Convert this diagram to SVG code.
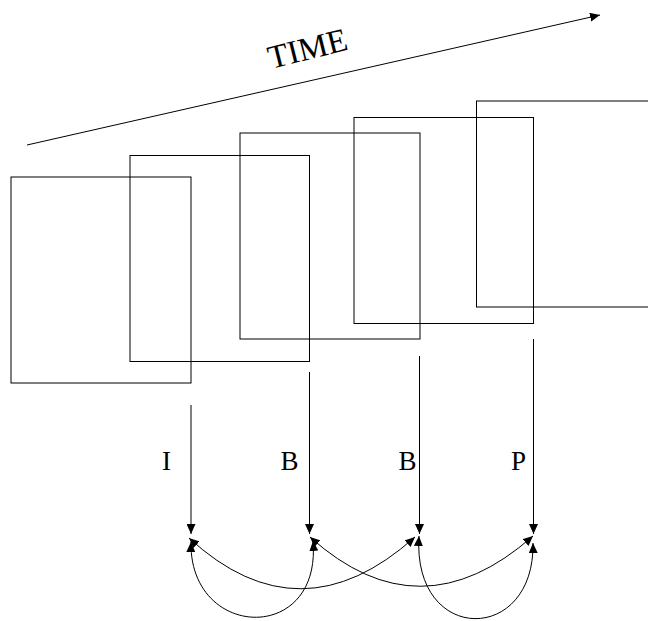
<svg xmlns="http://www.w3.org/2000/svg" width="648" height="621" viewBox="0 0 648 621">
<defs>
<marker id="ah" viewBox="0 0 10 9" refX="10" refY="4.5" markerUnits="userSpaceOnUse" markerWidth="10" markerHeight="9" orient="auto-start-reverse">
<path d="M0,0 L10,4.5 L0,9 z" fill="#000"/>
</marker>
<style>
.frame{fill:none;stroke:#000;stroke-width:1}
.c{fill:none;stroke:#000;stroke-width:1}
.lbl{font-family:"Liberation Serif","Times New Roman",serif;font-size:27px;fill:#000}
.big{font-size:33px}
</style>
</defs>
<rect width="648" height="621" fill="#fff"/>
<g id="time">
<text class="lbl big" x="271" y="69" transform="rotate(-14 271 69)">TIME</text>
</g>
<g id="frame1"><rect class="frame" x="11" y="177" width="180" height="206"/></g>
<g id="frame2"><rect class="frame" x="130" y="155.5" width="179.5" height="206"/></g>
<g id="frame3"><rect class="frame" x="240" y="133" width="180" height="206"/></g>
<g id="frame4"><rect class="frame" x="354" y="117.5" width="179.5" height="206"/></g>
<g id="frame5"><rect class="frame" x="476.5" y="101" width="180" height="206"/></g>
<g id="labels">
<text class="lbl" x="162" y="470">I</text>
<text class="lbl" x="280.5" y="470">B</text>
<text class="lbl" x="398.5" y="470">B</text>
<text class="lbl" x="511" y="470">P</text>
</g>
<g id="connectors">
<path class="c" d="M27,145 L600,15" marker-end="url(#ah)"/>
<path class="c" d="M191,405 V534" marker-end="url(#ah)"/>
<path class="c" d="M309.5,372 V534" marker-end="url(#ah)"/>
<path class="c" d="M419.5,356 V534" marker-end="url(#ah)"/>
<path class="c" d="M533.5,339 V534" marker-end="url(#ah)"/>
<path class="c" d="M189,538 Q300,640 415,537" marker-start="url(#ah)" marker-end="url(#ah)"/>
<path class="c" d="M310,537 Q420,636 533,536" marker-start="url(#ah)" marker-end="url(#ah)"/>
<path class="c" d="M191,542 C189,640 322,645 313,541" marker-start="url(#ah)" marker-end="url(#ah)"/>
<path class="c" d="M419,536 C412,645 535,645 533,543" marker-start="url(#ah)" marker-end="url(#ah)"/>
</g>
</svg>
